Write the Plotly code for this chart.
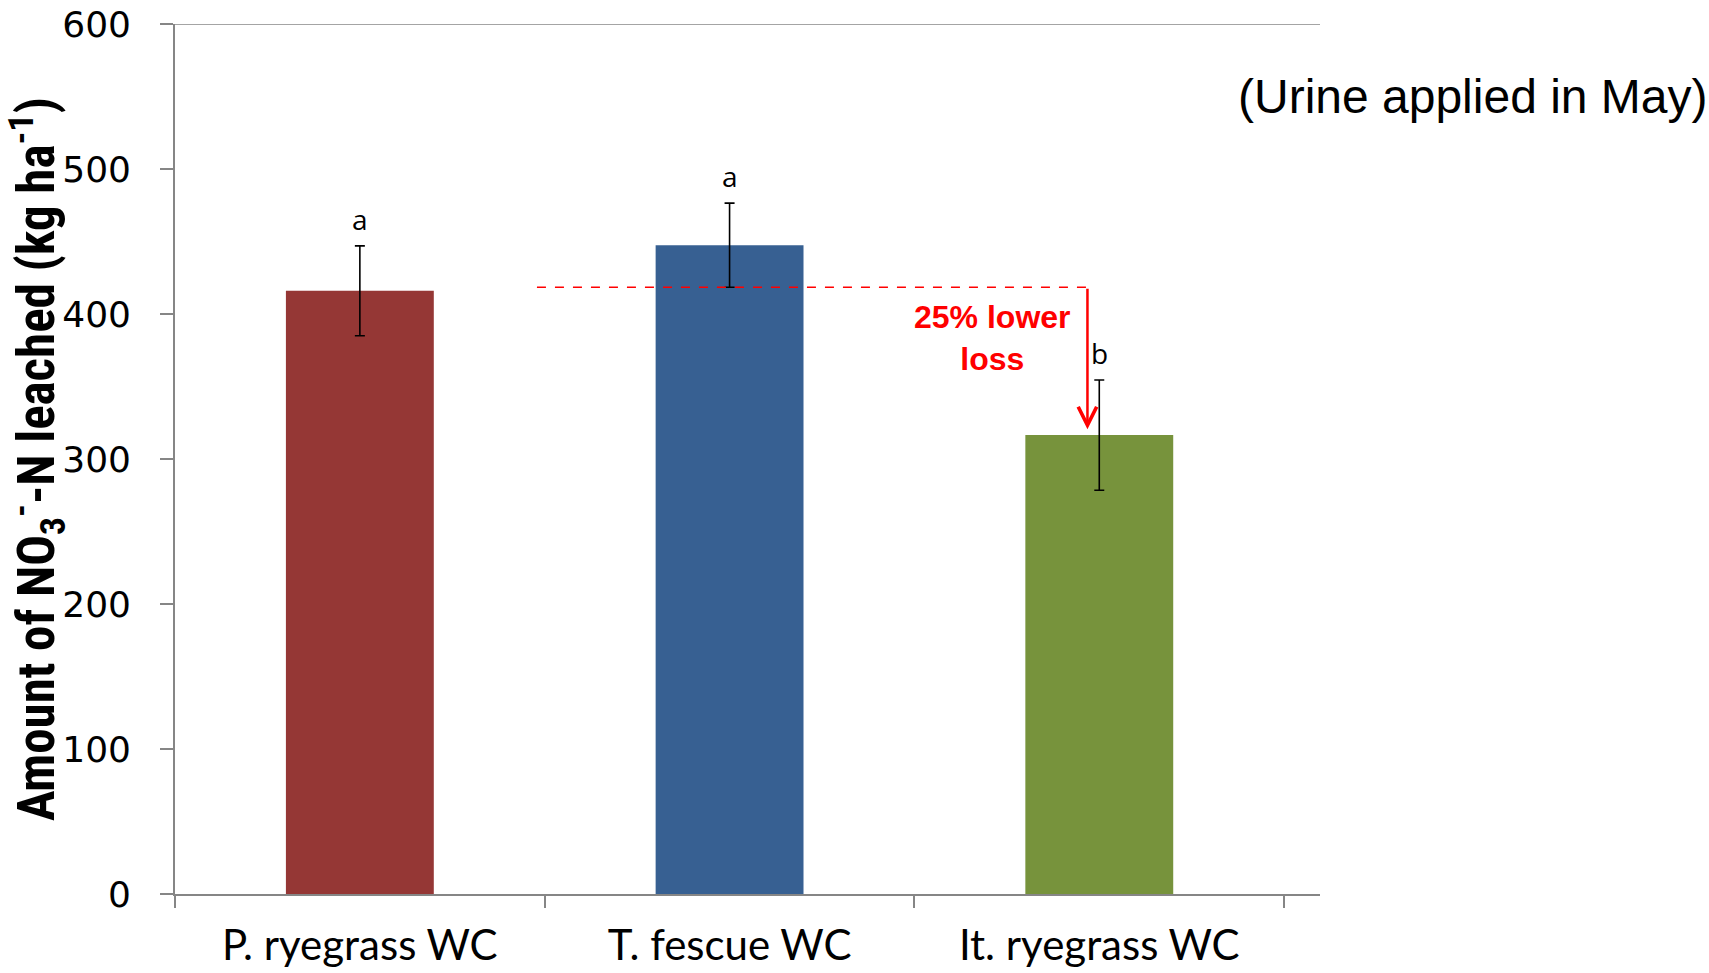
import plotly.graph_objects as go

# Nitrate leaching by winter cover treatment
categories = ["P. ryegrass WC", "T. fescue WC", "It. ryegrass WC"]
leached = [416, 447.5, 316.5]          # kg NO3--N per ha
std_err = [31, 29, 38]
sig_letters = ["a", "a", "b"]
bar_colors = ["#953735", "#376092", "#77933C"]
y_ticks = [0, 100, 200, 300, 400, 500, 600]

# Reference level used for the reduction annotation: lower bound of T. fescue
ref_level = leached[1] - std_err[1]
reduction_label = "25% lower<br>loss"

axis_grey = "#868686"

fig = go.Figure()
fig.add_trace(go.Bar(
    x=categories,
    y=leached,
    width=0.4,
    marker=dict(color=bar_colors, line=dict(width=0)),
    error_y=dict(type="data", array=std_err, color="black", thickness=1.6, width=5),
    showlegend=False,
    hoverinfo="skip",
))

# Significance letters above the error bars
for i, (cat, v, e, lab) in enumerate(zip(categories, leached, std_err, sig_letters)):
    fig.add_annotation(
        x=i, y=v + e, xref="x", yref="y", text=lab, showarrow=False,
        yanchor="bottom", yshift=6,
        font=dict(family="Open Sans, Lato, sans-serif", size=28, color="black"),
    )

# Dashed reference line and downward arrow
arrow_x = 1.968
fig.add_shape(
    type="line", xref="x", yref="y",
    x0=0.479, x1=arrow_x, y0=ref_level, y1=ref_level,
    line=dict(color="red", width=1.6, dash="dash"),
)
fig.add_annotation(
    x=arrow_x, y=leached[2] + 4, ax=arrow_x, ay=ref_level,
    xref="x", yref="y", axref="x", ayref="y",
    text="", showarrow=True, arrowhead=5, arrowsize=1.45, arrowwidth=2.5,
    arrowcolor="red", standoff=0, startstandoff=0,
)
fig.add_annotation(
    x=1.712, y=383.5, xref="x", yref="y", text=reduction_label, showarrow=False,
    font=dict(family="Liberation Sans, Arial, sans-serif", size=32, color="red", weight="bold"),
    align="center",
)

# Top boundary line of the plotting area
fig.add_shape(
    type="line", xref="paper", yref="y", x0=-0.012, x1=1, y0=600, y1=600,
    line=dict(color=axis_grey, width=1.6),
)

fig.add_annotation(
    x=1.3405, y=550, xref="paper", yref="y", text="(Urine applied in May)",
    showarrow=False, xanchor="right",
    font=dict(family="Liberation Sans, Arial, sans-serif", size=48, color="black"),
)

fig.update_layout(
    width=1709, height=973,
    margin=dict(l=175, r=389, t=24, b=79, autoexpand=False),
    paper_bgcolor="white", plot_bgcolor="white",
    bargap=0.6,
    xaxis=dict(
        type="category",
        range=[-0.5, 2.597],
        showline=True, linecolor=axis_grey, linewidth=1.6,
        ticks="outside", tickson="boundaries", ticklen=12, tickcolor=axis_grey, tickwidth=1.6,
        showgrid=False, zeroline=False,
        ticklabelstandoff=14,
        tickfont=dict(family="Lato, Open Sans, sans-serif", size=42, color="black"),
    ),
    yaxis=dict(
        range=[0, 600],
        tickvals=y_ticks,
        showline=True, linecolor=axis_grey, linewidth=1.6,
        ticks="outside", ticklen=13, tickcolor=axis_grey, tickwidth=1.6,
        showgrid=False, zeroline=False,
        ticklabelstandoff=22,
        tickfont=dict(family="DejaVu Sans, sans-serif", size=36, color="black"),
        title=dict(
            text="Amount of NO<sub>3</sub><sup>-</sup>-N leached (kg ha<sup>-1</sup>)",
            font=dict(family="Liberation Sans Narrow, Roboto Condensed, Arial Narrow, sans-serif",
                      size=51, color="black", weight="bold"),
            standoff=14,
        ),
    ),
)

fig.write_html("out.html")
